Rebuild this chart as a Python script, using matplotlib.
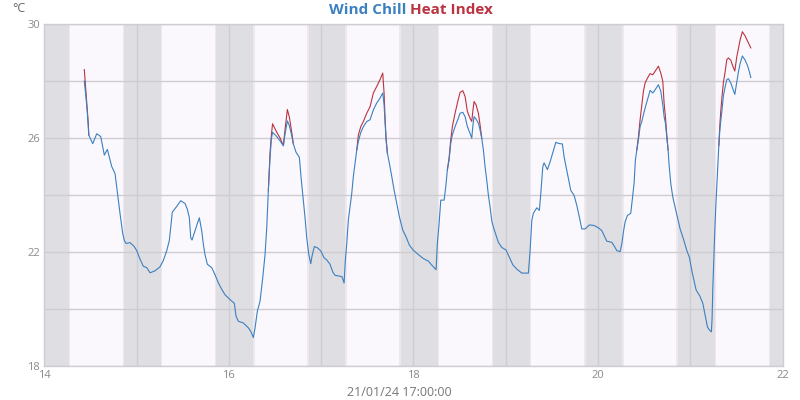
import numpy as np
import matplotlib
matplotlib.use("Agg")
import matplotlib.pyplot as plt

# ───── Data (hours after 14 Jan 00:00, °C) ─────
hours = [
    10.40, 10.85, 11.18, 11.44, 11.57, 12.59, 13.63, 14.67, 15.61, 16.39,
    17.53, 18.39, 19.09, 19.69, 20.39, 20.81, 21.25, 22.29, 23.33, 24.03,
    24.89, 25.75, 26.64, 27.49, 28.79, 30.09, 30.95, 31.84, 32.51, 32.88,
    33.29, 34.44, 35.48, 36.60, 37.20, 37.72, 38.08, 38.42, 39.20, 39.80,
    40.32, 40.94, 41.36, 41.80, 42.40, 43.54, 44.40, 45.26, 46.14, 47.00,
    48.30, 49.42, 49.86, 50.46, 51.76, 53.06, 53.69, 54.36, 54.81, 55.40,
    56.11, 56.81, 57.41, 57.85, 58.26, 58.71, 59.05, 59.36, 60.45, 61.31,
    62.17, 62.61, 63.21, 63.73, 64.35, 64.77, 65.47, 66.33, 66.77, 67.21,
    67.81, 68.25, 68.77, 69.29, 69.63, 70.23, 71.01, 71.89, 72.75, 73.45,
    74.31, 75.02, 75.61, 76.91, 77.43, 77.96, 78.29, 78.66, 79.07, 79.52,
    79.96, 80.37, 80.82, 81.26, 81.67, 82.30, 82.98, 83.86, 84.72, 85.58,
    86.46, 87.32, 88.02, 88.36, 88.62, 88.88, 89.22, 89.74, 90.36, 90.96,
    91.66, 92.34, 93.22, 94.08, 94.94, 95.98, 97.28, 98.58, 99.88, 100.77,
    101.89, 102.22, 102.67, 103.11, 103.97, 104.41, 104.82, 105.27, 105.71, 106.12,
    106.83, 107.53, 108.13, 108.83, 109.43, 110.03, 110.73, 111.17, 111.43, 111.77,
    112.29, 112.89, 113.33, 113.77, 114.19, 114.63, 115.07, 115.49, 115.93, 116.37,
    116.79, 117.49, 118.09, 118.97, 120.09, 120.95, 121.84, 122.88, 124.18, 125.90,
    126.34, 126.78, 127.19, 128.08, 128.75, 129.12, 129.64, 129.98, 130.84, 131.54,
    132.24, 133.03, 133.70, 134.74, 135.18, 135.70, 136.30, 136.92, 137.78, 138.48,
    139.16, 139.78, 140.64, 141.76, 142.98, 144.10, 144.99, 145.58, 146.29, 147.59,
    148.18, 148.89, 149.74, 150.19, 150.60, 151.04, 151.64, 152.52, 153.05, 153.38,
    153.72, 154.09, 154.50, 154.95, 155.39, 155.81, 156.25, 156.85, 157.55, 158.25,
    158.85, 159.71, 160.33, 160.85, 161.19, 161.53, 161.89, 162.23, 162.49, 162.93,
    163.45, 164.05, 164.65, 165.35, 166.21, 167.10, 167.77, 168.47, 168.99, 169.51,
    170.55, 171.26, 171.86, 172.45, 172.97, 173.49, 173.67, 173.86, 174.12, 174.38,
    174.64, 174.90, 175.16, 175.42, 175.68, 175.94, 176.28, 176.62, 177.06, 177.50,
    177.92, 178.54, 179.06, 179.58, 180.10, 180.52, 180.96, 181.55, 182.26, 182.86,
    183.38, 183.74,
]

wind_chill = [
    28.0, 27.4, 26.9, 26.4, 26.1, 25.8, 26.15, 26.05, 25.4, 25.6,
    25.0, 24.75, 24.0, 23.35, 22.65, 22.4, 22.3, 22.33, 22.2, 22.05,
    21.75, 21.5, 21.45, 21.27, 21.34, 21.48, 21.7, 22.05, 22.4, 22.87,
    23.4, 23.6, 23.8, 23.7, 23.5, 23.2, 22.5, 22.42, 22.75, 23.0,
    23.2, 22.74, 22.27, 21.9, 21.57, 21.45, 21.2, 20.92, 20.69, 20.5,
    20.33, 20.2, 19.75, 19.57, 19.51, 19.34, 19.22, 19.0, 19.34, 19.92,
    20.28, 21.1, 21.92, 22.86, 24.15, 25.32, 25.96, 26.2, 26.05, 25.9,
    25.73, 26.14, 26.6, 26.43, 26.08, 25.79, 25.5, 25.32, 24.62, 24.03,
    23.2, 22.5, 21.92, 21.59, 21.86, 22.19, 22.15, 22.04, 21.8, 21.72,
    21.57, 21.3, 21.18, 21.15, 21.13, 20.91, 21.71, 22.3, 23.12, 23.59,
    24.06, 24.65, 25.11, 25.58, 25.88, 26.19, 26.4, 26.58, 26.64, 26.99,
    27.23, 27.4, 27.58, 27.17, 26.58, 25.94, 25.47, 25.11, 24.65, 24.18,
    23.71, 23.24, 22.77, 22.53, 22.24, 22.06, 21.91, 21.77, 21.68, 21.54,
    21.38, 22.3, 23.0, 23.82, 23.82, 24.29, 24.88, 25.23, 25.82, 26.11,
    26.4, 26.64, 26.87, 26.9, 26.75, 26.4, 26.16, 25.99, 26.4, 26.75,
    26.66, 26.52, 26.28, 25.99, 25.58, 24.99, 24.52, 23.99, 23.58, 23.1,
    22.87, 22.58, 22.34, 22.16, 22.07, 21.81, 21.55, 21.4, 21.26, 21.26,
    22.05, 23.1, 23.36, 23.55, 23.46, 24.05, 24.99, 25.13, 24.89, 25.16,
    25.48, 25.85, 25.81, 25.79, 25.34, 24.99, 24.58, 24.16, 23.99, 23.64,
    23.22, 22.81, 22.81, 22.95, 22.93, 22.85, 22.75, 22.58, 22.38, 22.34,
    22.22, 22.05, 22.01, 22.28, 22.69, 23.05, 23.28, 23.36, 23.99, 24.4,
    25.22, 25.58, 25.93, 26.4, 26.58, 26.81, 27.05, 27.34, 27.67, 27.58,
    27.69, 27.87, 27.64, 27.16, 26.75, 26.52, 26.05, 25.58, 25.05, 24.4,
    23.93, 23.58, 23.22, 22.81, 22.46, 22.05, 21.81, 21.3, 20.99, 20.67,
    20.44, 20.2, 19.79, 19.38, 19.26, 19.2, 19.67, 20.73, 21.73, 22.75,
    23.61, 24.32, 25.02, 25.73, 26.26, 26.61, 27.02, 27.49, 27.79, 28.05,
    28.08, 27.93, 27.73, 27.53, 27.96, 28.32, 28.61, 28.88, 28.73, 28.55,
    28.32, 28.12,
]

heat_index = [
    28.4, 27.6, 27.0, 26.5, 26.1, 25.8, 26.15, 26.05, 25.4, 25.6,
    25.0, 24.75, 24.0, 23.35, 22.65, 22.4, 22.3, 22.33, 22.2, 22.05,
    21.75, 21.5, 21.45, 21.27, 21.34, 21.48, 21.7, 22.05, 22.4, 22.87,
    23.4, 23.6, 23.8, 23.7, 23.5, 23.2, 22.5, 22.42, 22.75, 23.0,
    23.2, 22.74, 22.27, 21.9, 21.57, 21.45, 21.2, 20.92, 20.69, 20.5,
    20.33, 20.2, 19.75, 19.57, 19.51, 19.34, 19.22, 19.0, 19.34, 19.92,
    20.28, 21.1, 21.92, 22.86, 24.15, 25.5, 26.1, 26.5, 26.2, 26.0,
    25.73, 26.3, 27.0, 26.73, 26.2, 25.79, 25.5, 25.32, 24.62, 24.03,
    23.2, 22.5, 21.92, 21.59, 21.86, 22.19, 22.15, 22.04, 21.8, 21.72,
    21.57, 21.3, 21.18, 21.15, 21.13, 20.91, 21.71, 22.3, 23.12, 23.59,
    24.06, 24.65, 25.11, 25.58, 26.1, 26.4, 26.58, 26.87, 27.1, 27.58,
    27.81, 28.05, 28.28, 27.58, 26.7, 26.0, 25.47, 25.11, 24.65, 24.18,
    23.71, 23.24, 22.77, 22.53, 22.24, 22.06, 21.91, 21.77, 21.68, 21.54,
    21.38, 22.3, 23.0, 23.82, 23.82, 24.29, 24.88, 25.3, 25.94, 26.4,
    26.87, 27.28, 27.6, 27.66, 27.46, 26.93, 26.69, 26.58, 26.93, 27.28,
    27.16, 26.87, 26.46, 25.99, 25.58, 24.99, 24.52, 23.99, 23.58, 23.1,
    22.87, 22.58, 22.34, 22.16, 22.07, 21.81, 21.55, 21.4, 21.26, 21.26,
    22.05, 23.1, 23.36, 23.55, 23.46, 24.05, 24.99, 25.13, 24.89, 25.16,
    25.48, 25.85, 25.81, 25.79, 25.34, 24.99, 24.58, 24.16, 23.99, 23.64,
    23.22, 22.81, 22.81, 22.95, 22.93, 22.85, 22.75, 22.58, 22.38, 22.34,
    22.22, 22.05, 22.01, 22.28, 22.69, 23.05, 23.28, 23.36, 23.99, 24.4,
    25.22, 25.58, 26.02, 26.64, 27.16, 27.64, 27.93, 28.1, 28.26, 28.22,
    28.34, 28.52, 28.28, 27.99, 27.22, 26.75, 26.1, 25.58, 25.05, 24.4,
    23.93, 23.58, 23.22, 22.81, 22.46, 22.05, 21.81, 21.3, 20.99, 20.67,
    20.44, 20.2, 19.79, 19.38, 19.26, 19.2, 19.67, 20.73, 21.73, 22.75,
    23.61, 24.32, 25.02, 25.73, 26.44, 26.96, 27.49, 27.96, 28.32, 28.75,
    28.81, 28.73, 28.52, 28.35, 28.85, 29.14, 29.44, 29.73, 29.58, 29.41,
    29.26, 29.16,
]

# sunset / sunrise (hour of day) for the night shading
SUNSET  = 20.75
SUNRISE = 6.3
TWILIGHT = 0.4
DAYS = list(range(13, 23))

BLUE = '#3b80c0'
RED  = '#bb3340'
GRID = '#cfcdd2'
TICK = '#8a8a8a'

plt.rcParams['font.family'] = ['Open Sans', 'DejaVu Sans']

x = 14 + np.array(hours) / 24.0
wc = np.array(wind_chill)
hi = np.array(heat_index)

# the red line only shows where it leaves the blue one; hide it elsewhere so
# it does not tint the blue line through antialiasing
diff = hi > wc
keep = diff.copy()
keep[1:] |= diff[:-1]
keep[:-1] |= diff[1:]
hi_visible = np.where(keep, hi, np.nan)

fig = plt.figure(figsize=(8, 4), dpi=100)
ax = fig.add_axes([0.0554, 0.085, 0.9228, 0.855])
ax.set_facecolor('#faf8fd')

# ───── night / twilight bands ─────
for d in DAYS:
    start = d + SUNSET / 24
    end = d + 1 + SUNRISE / 24
    ax.axvspan(start - TWILIGHT / 24, end + TWILIGHT / 24, color='#eee7f0', lw=0, zorder=0)
    ax.axvspan(start, end, color='#dfdee2', lw=0, zorder=0)

for yv in range(18, 31, 2):
    ax.axhline(yv, color=GRID, lw=1, zorder=1)
for d in range(15, 22):
    ax.axvline(d, color=GRID, lw=1, zorder=1)

ax.plot(x, hi_visible, color=RED, lw=0.8, zorder=3)
ax.plot(x, wc, color=BLUE, lw=0.8, zorder=4)

ax.set_xlim(14, 22)
ax.set_ylim(18, 30)
ax.set_xticks([14, 16, 18, 20, 22])
ax.set_yticks([18, 22, 26, 30])
ax.tick_params(length=0, colors=TICK, labelsize=8, pad=3)
for s in ax.spines.values():
    s.set_color(GRID)
    s.set_linewidth(1)

fig.text(12 / 800, 1 - 8 / 400, '°C', ha='left', va='center', color='#666666', fontsize=9)
fig.text(406 / 800, 1 - 10 / 400, 'Wind Chill', ha='right', va='center', color=BLUE,
         fontsize=11, fontweight='bold')
fig.text(410 / 800, 1 - 10 / 400, 'Heat Index', ha='left', va='center', color=RED,
         fontsize=11, fontweight='bold')
fig.text(399 / 800, 1 - 392 / 400, '21/01/24 17:00:00', ha='center', va='center',
         color='#777777', fontsize=9)

fig.savefig('out.png', dpi=100)
